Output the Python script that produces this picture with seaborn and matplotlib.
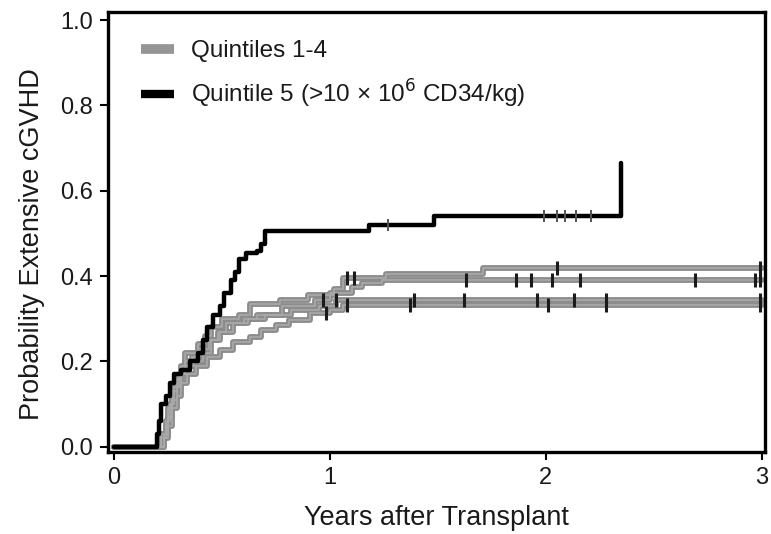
import numpy as np
import pandas as pd
import matplotlib
matplotlib.use("Agg")
import matplotlib.pyplot as plt
from matplotlib.lines import Line2D
import seaborn as sns

# Cumulative incidence of extensive chronic GVHD by CD34 dose quintile
# Step times (years) and cumulative incidence after each step
q5_times = [0.20, 0.21, 0.22, 0.24, 0.26, 0.28, 0.31, 0.35, 0.39, 0.41, 0.43, 0.46,
            0.49, 0.51, 0.54, 0.56, 0.58, 0.61, 0.66, 0.68, 0.70, 1.18, 1.48, 2.35]
q5_inc = [0.03, 0.06, 0.10, 0.12, 0.15, 0.17, 0.18, 0.20, 0.22, 0.25, 0.28, 0.31,
          0.33, 0.36, 0.39, 0.41, 0.44, 0.455, 0.46, 0.475, 0.505, 0.52, 0.54, 0.665]
q5_censor = [1.27, 1.99, 2.05, 2.09, 2.14, 2.21]
q5_end = 2.35

qa_times = [0.22, 0.24, 0.25, 0.27, 0.29, 0.31, 0.33, 0.39, 0.42, 0.45, 0.50, 0.58,
            0.63, 0.77, 0.90, 1.02, 1.06, 1.26, 1.71]
qa_inc = [0.02, 0.05, 0.09, 0.13, 0.16, 0.19, 0.22, 0.24, 0.26, 0.28, 0.30, 0.31,
          0.335, 0.345, 0.355, 0.37, 0.395, 0.405, 0.42]
qa_censor = [1.08, 1.11, 2.05, 2.99]

qb_times = [0.23, 0.25, 0.27, 0.29, 0.31, 0.33, 0.36, 0.40, 0.44, 0.48, 0.52, 0.60,
            0.66, 0.78, 0.93, 1.00, 1.10, 1.15, 1.24]
qb_inc = [0.03, 0.07, 0.11, 0.14, 0.17, 0.20, 0.21, 0.23, 0.25, 0.27, 0.29, 0.30,
          0.31, 0.33, 0.345, 0.36, 0.375, 0.385, 0.39]
qb_censor = [0.97, 1.63, 1.86, 1.93, 2.03, 2.16, 2.69, 2.97, 2.99]

qc_times = [0.22, 0.24, 0.26, 0.28, 0.30, 0.33, 0.37, 0.41, 0.45, 0.49, 0.55, 0.62,
            0.70, 0.82, 0.95, 1.03]
qc_inc = [0.03, 0.06, 0.10, 0.14, 0.17, 0.19, 0.20, 0.22, 0.25, 0.27, 0.29, 0.30,
          0.31, 0.32, 0.33, 0.345]
qc_censor = [1.03, 1.39, 1.62, 1.96, 2.13, 2.28, 2.99]

qd_times = [0.23, 0.25, 0.27, 0.29, 0.31, 0.34, 0.38, 0.43, 0.49, 0.55, 0.63, 0.68,
            0.75, 0.81, 0.91, 1.00, 1.06]
qd_inc = [0.02, 0.05, 0.09, 0.12, 0.15, 0.17, 0.19, 0.21, 0.227, 0.246, 0.258, 0.274,
          0.286, 0.297, 0.314, 0.32, 0.333]
qd_censor = [0.98, 1.08, 1.37, 2.01, 2.28, 2.99]
q14_end = 3.0

x_ticks = [0, 1, 2, 3]
y_ticks = [0.0, 0.2, 0.4, 0.6, 0.8, 1.0]
y_ticklabels = ["0.0", "0.2", "0.4", "0.6", "0.8", "1.0"]


def step_frame(times, inc, end, name):
    t = np.concatenate([[0.0], times, [end]])
    y = np.concatenate([[0.0], inc, [inc[-1]]])
    return pd.DataFrame({"years": t, "cuminc": y, "curve": name})


def censor_frame(times, inc, censor, name):
    t = np.asarray(times)
    y = np.concatenate([[0.0], inc])
    idx = np.searchsorted(t, np.asarray(censor), side="right")
    return pd.DataFrame({"years": censor, "cuminc": y[idx], "curve": name})


sns.set_theme(style="ticks")
plt.rcParams["font.family"] = ["Liberation Sans", "DejaVu Sans"]

fig = plt.figure(figsize=(7.71, 5.34), dpi=100)
ax = fig.add_axes([0.140, 0.1536, 0.852, 0.824])

gray_sets = [
    (qa_times, qa_inc, qa_censor, "q_a"),
    (qb_times, qb_inc, qb_censor, "q_b"),
    (qc_times, qc_inc, qc_censor, "q_c"),
    (qd_times, qd_inc, qd_censor, "q_d"),
]

for times, inc, cens, name in gray_sets:
    df = step_frame(times, inc, q14_end, name)
    sns.lineplot(data=df, x="years", y="cuminc", ax=ax, drawstyle="steps-post",
                 color="#8c8c8c", linewidth=4.2, estimator=None, sort=False,
                 legend=False, zorder=2)
    sns.lineplot(data=df, x="years", y="cuminc", ax=ax, drawstyle="steps-post",
                 color="#aaaaaa", linewidth=1.2, estimator=None, sort=False,
                 legend=False, zorder=2.1)

df5 = step_frame(q5_times, q5_inc, q5_end, "q5")
sns.lineplot(data=df5, x="years", y="cuminc", ax=ax, drawstyle="steps-post",
             color="black", linewidth=3.2, estimator=None, sort=False,
             legend=False, zorder=3)

for times, inc, cens, name in gray_sets:
    cdf = censor_frame(times, inc, cens, name)
    ax.scatter(cdf["years"], cdf["cuminc"], marker="|", s=90, linewidths=2.2,
               color="#1a1a1a", zorder=4)
cdf5 = censor_frame(q5_times, q5_inc, q5_censor, "q5")
ax.scatter(cdf5["years"], cdf5["cuminc"], marker="|", s=70, linewidths=1.4,
           color="#555555", zorder=4)

ax.set_xlim(-0.028, 3.014)
ax.set_ylim(-0.012, 1.019)
ax.set_xticks(x_ticks)
ax.set_yticks(y_ticks)
ax.set_yticklabels(y_ticklabels)
ax.tick_params(axis="both", labelsize=17, length=6, width=1.5, color="black",
               labelcolor="#1a1a1a", direction="out", pad=5)
for s in ax.spines.values():
    s.set_linewidth(2.4)
    s.set_color("black")

ax.set_xlabel("Years after Transplant", fontsize=19.5, labelpad=11, color="#1a1a1a")
ax.set_ylabel("Probability Extensive cGVHD", fontsize=19.5, color="#1a1a1a")
ax.yaxis.set_label_coords(-0.096, 0.473)

handles = [Line2D([0], [0], color="#959595", linewidth=7, solid_capstyle="butt"),
           Line2D([0], [0], color="black", linewidth=6, solid_capstyle="butt")]
labels = ["Quintiles 1-4", "Quintile 5 (>10 \u00d7 10$^{6}$ CD34/kg)"]
leg = ax.legend(handles, labels, loc="upper left", bbox_to_anchor=(0.017, 0.985),
                frameon=False, fontsize=17.5, handlelength=1.35, handletextpad=0.7,
                labelspacing=0.62)
for txt in leg.get_texts():
    txt.set_color("#1a1a1a")

fig.savefig("out.png", dpi=100)
